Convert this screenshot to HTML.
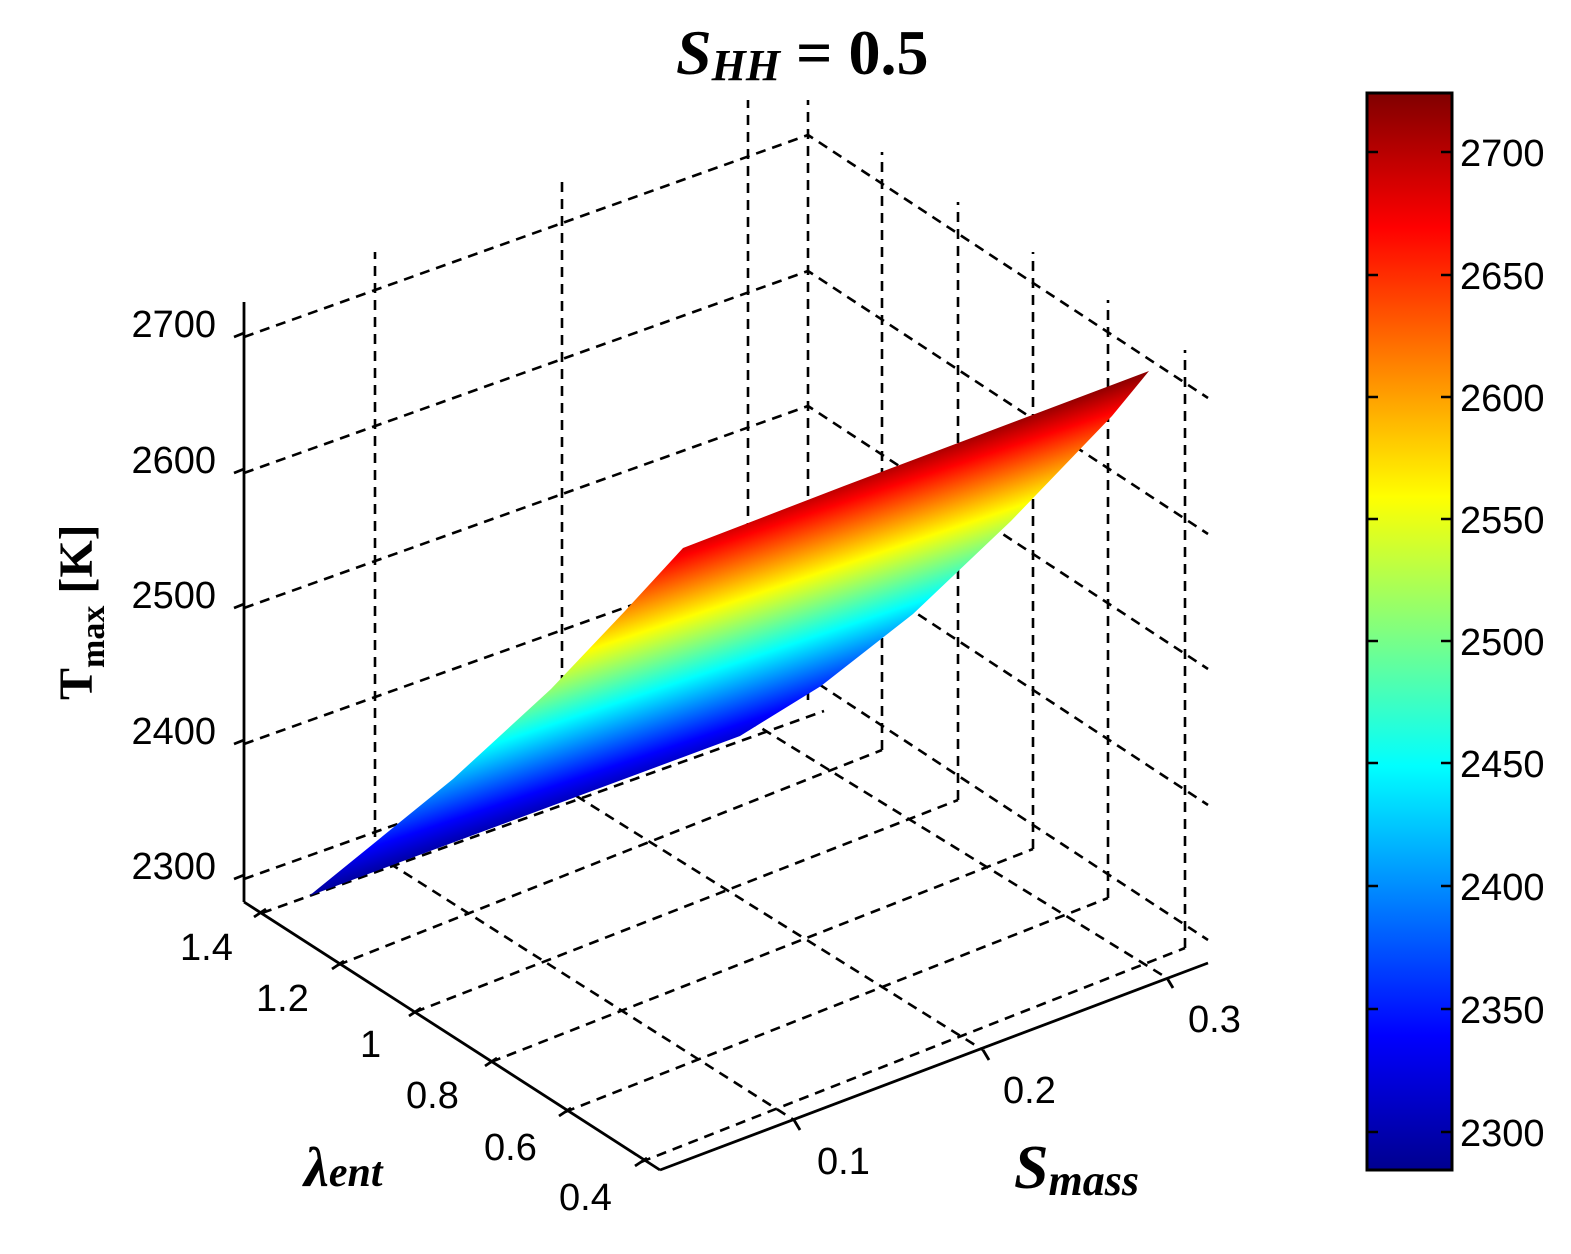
<!DOCTYPE html>
<html><head><meta charset="utf-8"><style>
html,body{margin:0;padding:0;background:#fff;}
svg{display:block;}
.t{font-family:"Liberation Sans",Arial,sans-serif;font-size:38px;fill:#000;}
</style></head><body>
<svg width="1571" height="1254" viewBox="0 0 1571 1254" xmlns="http://www.w3.org/2000/svg">
<defs>
<linearGradient id="jet" x1="310" y1="899" x2="235" y2="675" gradientUnits="userSpaceOnUse">
<stop offset="0" stop-color="#00008f"/><stop offset="0.125" stop-color="#0000ff"/>
<stop offset="0.375" stop-color="#00ffff"/><stop offset="0.5" stop-color="#80ff80"/><stop offset="0.625" stop-color="#ffff00"/>
<stop offset="0.875" stop-color="#ff0000"/><stop offset="1" stop-color="#800000"/>
</linearGradient>
<linearGradient id="cb" x1="0" y1="1" x2="0" y2="0">
<stop offset="0" stop-color="#00008f"/><stop offset="0.125" stop-color="#0000ff"/>
<stop offset="0.375" stop-color="#00ffff"/><stop offset="0.5" stop-color="#80ff80"/><stop offset="0.625" stop-color="#ffff00"/>
<stop offset="0.875" stop-color="#ff0000"/><stop offset="1" stop-color="#800000"/>
</linearGradient>
</defs>

<g stroke="#000" stroke-width="2.6" stroke-dasharray="10,7" fill="none">
<line x1="375" y1="854" x2="375" y2="252"/>
<line x1="562" y1="787" x2="562" y2="182"/>
<line x1="748" y1="720" x2="748" y2="100"/>
<line x1="808" y1="700" x2="808" y2="100"/>
<line x1="882" y1="750" x2="882" y2="152"/>
<line x1="958" y1="800" x2="958" y2="202"/>
<line x1="1033" y1="849" x2="1033" y2="252"/>
<line x1="1108" y1="898" x2="1108" y2="300"/>
<line x1="1185" y1="948" x2="1185" y2="350"/>
<polyline points="244,879 808,677 1208,940"/>
<polyline points="244,744 808,542 1208,805"/>
<polyline points="244,608 808,406 1208,669"/>
<polyline points="244,473 808,271 1208,534"/>
<polyline points="244,337 808,135 1208,398"/>
<line x1="375" y1="854" x2="794" y2="1120"/>
<line x1="562" y1="787" x2="983" y2="1050"/>
<line x1="748" y1="720" x2="1167" y2="978"/>
<line x1="262" y1="913" x2="824" y2="711"/>
<line x1="338" y1="965" x2="882" y2="750"/>
<line x1="415" y1="1012" x2="958" y2="800"/>
<line x1="491" y1="1062" x2="1033" y2="849"/>
<line x1="565" y1="1112" x2="1108" y2="898"/>
<line x1="641" y1="1162" x2="1185" y2="948"/>
</g>

<polygon fill="url(#jet)" points="309,896 453,779 551,689 625,611 683,548 844,486 1149,371 1112,416 1011,521 913,614 821,686 740,736"/>

<g stroke="#000" stroke-width="2.8" fill="none">
<line x1="244" y1="302" x2="244" y2="902"/>
<line x1="244" y1="902" x2="660" y2="1170"/>
<line x1="660" y1="1170" x2="1208" y2="963"/>
<line x1="234" y1="337" x2="244" y2="333"/><line x1="234" y1="473" x2="244" y2="469"/>
<line x1="234" y1="608" x2="244" y2="604"/><line x1="234" y1="744" x2="244" y2="740"/>
<line x1="234" y1="879" x2="244" y2="875"/>
<line x1="254" y1="917" x2="266" y2="909"/><line x1="332" y1="969" x2="344" y2="961"/>
<line x1="409" y1="1016" x2="421" y2="1008"/><line x1="485" y1="1066" x2="497" y2="1058"/>
<line x1="559" y1="1116" x2="571" y2="1108"/><line x1="635" y1="1166" x2="647" y2="1158"/>
<line x1="794" y1="1120" x2="800" y2="1130"/><line x1="983" y1="1050" x2="989" y2="1060"/>
<line x1="1167" y1="978" x2="1173" y2="988"/>
</g>

<g class="t" text-anchor="end">
<text x="216" y="337">2700</text><text x="216" y="473">2600</text>
<text x="216" y="608">2500</text><text x="216" y="744">2400</text>
<text x="216" y="879">2300</text>
</g>
<g class="t">
<text x="180" y="960">1.4</text><text x="256" y="1011">1.2</text>
<text x="360" y="1057">1</text><text x="406" y="1108">0.8</text>
<text x="484" y="1160">0.6</text><text x="559" y="1210">0.4</text>
<text x="817" y="1174">0.1</text><text x="1003" y="1103">0.2</text>
<text x="1188" y="1032">0.3</text>
</g>

<text transform="translate(92,700) rotate(-90)" font-family="Liberation Serif,serif" font-weight="bold" font-size="48">T<tspan font-size="34" dy="12">max</tspan><tspan dy="-12"> [K]</tspan></text>
<text x="304" y="1186" font-family="Liberation Serif,serif" font-weight="bold" font-style="italic" font-size="56">λ<tspan font-size="42">ent</tspan></text>
<text x="1014" y="1188" font-family="Liberation Serif,serif" font-weight="bold" font-style="italic" font-size="62">S<tspan font-size="44" dy="7">mass</tspan></text>
<text x="676" y="74" font-family="Liberation Serif,serif" font-weight="bold" font-size="64"><tspan font-style="italic">S</tspan><tspan font-style="italic" font-size="44" dy="6">HH</tspan><tspan dy="-6"> = 0.5</tspan></text>

<rect x="1367" y="93" width="85" height="1077" fill="url(#cb)" stroke="#000" stroke-width="3"/>
<g stroke="#000" stroke-width="2.5">
<line x1="1367" y1="152" x2="1378" y2="152"/><line x1="1441" y1="152" x2="1452" y2="152"/>
<line x1="1367" y1="275" x2="1378" y2="275"/><line x1="1441" y1="275" x2="1452" y2="275"/>
<line x1="1367" y1="397" x2="1378" y2="397"/><line x1="1441" y1="397" x2="1452" y2="397"/>
<line x1="1367" y1="519" x2="1378" y2="519"/><line x1="1441" y1="519" x2="1452" y2="519"/>
<line x1="1367" y1="641" x2="1378" y2="641"/><line x1="1441" y1="641" x2="1452" y2="641"/>
<line x1="1367" y1="763" x2="1378" y2="763"/><line x1="1441" y1="763" x2="1452" y2="763"/>
<line x1="1367" y1="886" x2="1378" y2="886"/><line x1="1441" y1="886" x2="1452" y2="886"/>
<line x1="1367" y1="1009" x2="1378" y2="1009"/><line x1="1441" y1="1009" x2="1452" y2="1009"/>
<line x1="1367" y1="1132" x2="1378" y2="1132"/><line x1="1441" y1="1132" x2="1452" y2="1132"/>
</g>
<g class="t">
<text x="1460" y="166">2700</text><text x="1460" y="289">2650</text>
<text x="1460" y="411">2600</text><text x="1460" y="533">2550</text>
<text x="1460" y="655">2500</text><text x="1460" y="777">2450</text>
<text x="1460" y="900">2400</text><text x="1460" y="1023">2350</text>
<text x="1460" y="1146">2300</text>
</g>
</svg>
</body></html>
